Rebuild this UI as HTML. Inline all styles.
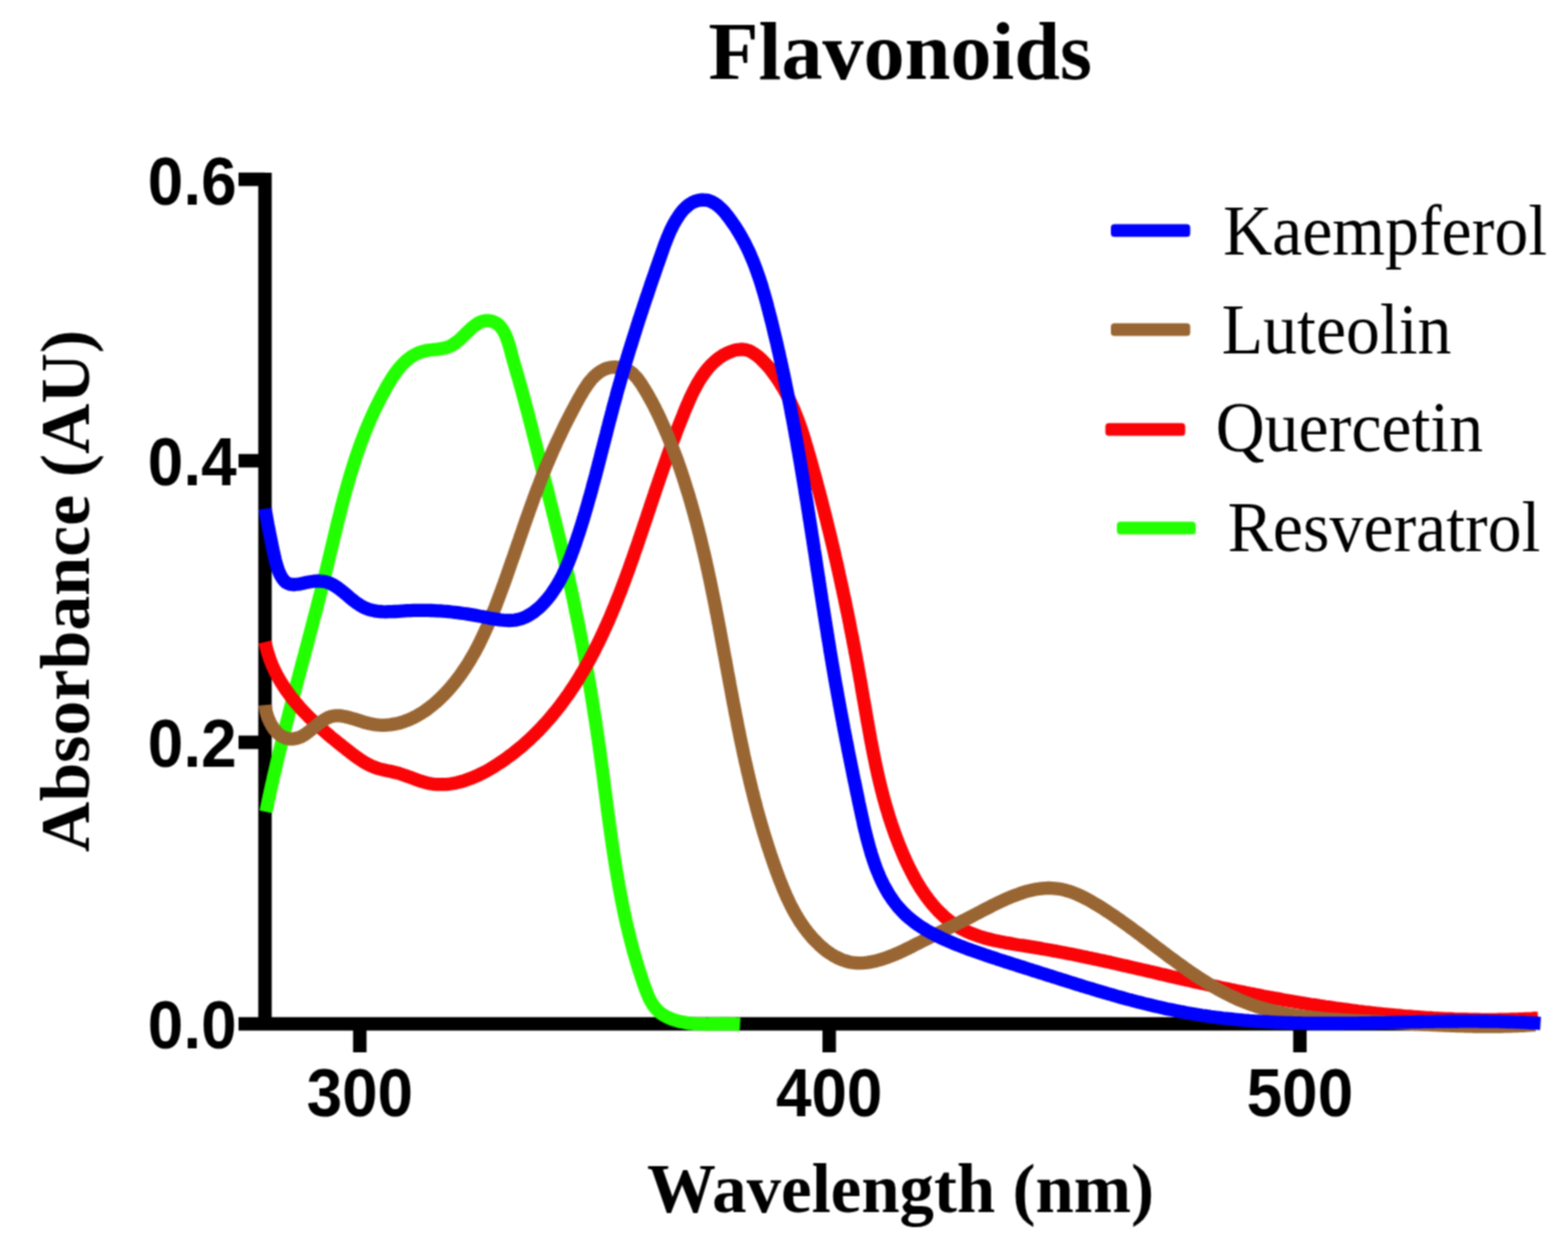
<!DOCTYPE html><html><head><meta charset="utf-8"><title>Flavonoids</title><style>html,body{margin:0;padding:0;background:#fff;}svg{display:block;}.serb{font-family:"Liberation Serif","Times New Roman",serif;font-weight:bold;}.ser{font-family:"Liberation Serif","Times New Roman",serif;}.sanb{font-family:"Liberation Sans",Arial,sans-serif;font-weight:bold;}</style></head><body>
<svg width="1571" height="1250" viewBox="0 0 1571 1250">
<defs><filter id="soft" x="0" y="0" width="1571" height="1250" filterUnits="userSpaceOnUse" color-interpolation-filters="sRGB"><feConvolveMatrix order="3" kernelMatrix="1 2 1 2 4 2 1 2 1" edgeMode="duplicate"/></filter></defs>
<g filter="url(#soft)">
<rect width="1571" height="1250" fill="#fff"/>
<text class="serb" x="0.0" y="0.0" font-size="82.3" text-anchor="middle" transform="translate(901.9 78.6) scale(1 1.000) translate(0.0 0.0)">Flavonoids</text>
<text class="serb" x="0" y="0" font-size="70.0" text-anchor="middle" transform="translate(88.9 591.9) rotate(-90) scale(1 1.000)">Absorbance (AU)</text>
<text class="serb" x="0" y="0" font-size="69.0" text-anchor="middle" transform="translate(902.3 1213.5) scale(1 1.000)">Wavelength (nm)</text>
<g stroke="#000" stroke-width="13.5" fill="none" stroke-linecap="butt">
<path d="M265.5,172.9 V1031.5"/>
<path d="M239.0,1025.5 H1534.0"/>
<path d="M239,179.6 H265.5"/>
<path d="M239,461.5 H265.5"/>
<path d="M239,743.5 H265.5"/>
<path d="M360.5,1025.5 V1054.0"/>
<path d="M830.8,1025.5 V1054.0"/>
<path d="M1302.4,1025.5 V1054.0"/>
</g>
<text class="sanb" font-size="64.0" text-anchor="end" transform="translate(237.0 204.7) scale(1 1.080)">0.6</text>
<text class="sanb" font-size="64.0" text-anchor="end" transform="translate(237.0 486.4) scale(1 1.080)">0.4</text>
<text class="sanb" font-size="64.0" text-anchor="end" transform="translate(237.0 768.1) scale(1 1.080)">0.2</text>
<text class="sanb" font-size="64.0" text-anchor="end" transform="translate(237.0 1049.7) scale(1 1.080)">0.0</text>
<text class="sanb" font-size="64.0" text-anchor="middle" transform="translate(360.5 1117.6) scale(1 1.080)">300</text>
<text class="sanb" font-size="64.0" text-anchor="middle" transform="translate(830.8 1117.6) scale(1 1.080)">400</text>
<text class="sanb" font-size="64.0" text-anchor="middle" transform="translate(1302.4 1117.6) scale(1 1.080)">500</text>
<path d="M266.5,813.1 L267.1,810.2 267.7,807.2 268.3,804.3 268.9,801.3 269.6,798.4 270.2,795.5 270.8,792.5 271.5,789.6 272.1,786.6 272.8,783.7 273.5,780.8 274.1,777.8 274.8,774.9 275.5,772.0 276.2,769.0 276.8,766.1 277.5,763.2 278.2,760.3 278.9,757.3 279.6,754.4 280.3,751.5 281.1,748.6 281.8,745.6 282.5,742.7 283.2,739.8 283.9,736.9 284.7,734.0 285.4,731.1 286.1,728.1 286.9,725.2 287.6,722.3 288.4,719.4 289.1,716.5 289.9,713.6 290.6,710.7 291.4,707.7 292.1,704.8 292.9,701.9 293.6,699.0 294.4,696.1 295.2,693.2 295.9,690.3 296.7,687.4 297.5,684.5 298.2,681.6 299.0,678.7 299.8,675.8 300.5,672.8 301.3,669.9 302.1,667.0 302.8,664.1 303.6,661.2 304.4,658.3 305.2,655.4 305.9,652.5 306.7,649.6 307.5,646.7 308.2,643.8 309.0,640.9 309.8,638.0 310.5,635.1 311.3,632.1 312.1,629.2 312.8,626.3 313.6,623.4 314.3,620.5 315.1,617.6 315.9,614.7 316.6,611.8 317.4,608.9 318.1,606.0 318.9,603.0 319.6,600.1 320.4,597.2 321.1,594.3 321.8,591.4 322.6,588.5 323.3,585.5 324.0,582.6 324.7,579.7 325.5,576.8 326.2,573.9 326.9,570.9 327.6,568.0 328.3,565.1 329.0,562.2 329.7,559.2 330.4,556.3 331.1,553.4 331.8,550.5 332.5,547.5 333.2,544.6 333.9,541.7 334.6,538.7 335.3,535.8 336.0,532.9 336.7,530.0 337.4,527.0 338.1,524.1 338.8,521.2 339.6,518.3 340.3,515.4 341.0,512.5 341.8,509.5 342.5,506.6 343.3,503.7 344.0,500.8 344.8,497.9 345.6,495.0 346.4,492.1 347.2,489.2 348.0,486.3 348.8,483.5 349.6,480.6 350.5,477.7 351.3,474.8 352.2,471.9 353.1,469.1 354.0,466.2 354.9,463.4 355.8,460.5 356.7,457.7 357.7,454.8 358.7,452.0 359.7,449.1 360.7,446.3 361.7,443.5 362.8,440.7 363.8,437.9 364.9,435.1 366.0,432.3 367.1,429.5 368.3,426.7 369.5,423.9 370.7,421.1 371.9,418.4 373.1,415.6 374.4,412.9 375.7,410.1 377.0,407.4 378.3,404.7 379.7,402.0 381.1,399.3 382.5,396.6 383.9,393.9 385.4,391.2 386.9,388.5 388.4,385.8 390.0,383.2 391.6,380.6 393.2,378.0 394.9,375.5 396.7,373.0 398.5,370.6 400.3,368.3 402.2,366.1 404.2,364.0 406.3,362.0 408.5,360.2 410.7,358.4 413.0,356.8 415.4,355.4 417.9,354.1 420.6,353.0 423.3,352.1 426.1,351.4 429.0,350.9 432.0,350.5 435.1,350.1 438.1,349.8 441.2,349.4 444.1,348.9 447.0,348.2 449.8,347.2 452.4,346.0 454.9,344.5 457.3,342.8 459.7,340.9 462.0,338.8 464.3,336.6 466.6,334.3 468.9,332.0 471.3,329.7 473.7,327.6 476.1,325.7 478.6,324.0 481.1,322.7 483.7,321.7 486.4,321.2 489.0,321.1 491.7,321.5 494.2,322.2 496.6,323.3 498.8,324.7 500.8,326.5 502.5,328.7 504.1,331.0 505.6,333.7 506.9,336.5 508.0,339.5 509.1,342.5 510.1,345.7 511.0,348.9 511.9,352.1 512.7,355.3 513.5,358.4 514.4,361.4 515.2,364.3 516.0,367.2 516.8,370.1 517.6,372.9 518.5,375.7 519.3,378.5 520.1,381.3 520.9,384.2 521.7,387.0 522.5,389.8 523.3,392.7 524.0,395.6 524.8,398.4 525.6,401.3 526.4,404.2 527.1,407.1 527.9,409.9 528.7,412.8 529.4,415.7 530.2,418.6 530.9,421.5 531.7,424.4 532.4,427.4 533.2,430.3 533.9,433.2 534.6,436.1 535.4,439.0 536.1,442.0 536.9,444.9 537.6,447.8 538.3,450.7 539.1,453.7 539.8,456.6 540.5,459.5 541.3,462.5 542.0,465.4 542.7,468.3 543.5,471.3 544.2,474.2 544.9,477.1 545.7,480.1 546.4,483.0 547.1,485.9 547.9,488.8 548.6,491.7 549.3,494.7 550.1,497.6 550.8,500.5 551.5,503.4 552.3,506.3 553.0,509.3 553.7,512.2 554.4,515.1 555.2,518.0 555.9,520.9 556.6,523.8 557.3,526.8 558.0,529.7 558.8,532.6 559.5,535.5 560.2,538.4 560.9,541.3 561.6,544.3 562.3,547.2 563.0,550.1 563.7,553.0 564.4,555.9 565.1,558.8 565.8,561.8 566.4,564.7 567.1,567.6 567.8,570.5 568.4,573.5 569.1,576.4 569.8,579.3 570.4,582.2 571.1,585.2 571.7,588.1 572.4,591.0 573.0,594.0 573.6,596.9 574.3,599.8 574.9,602.8 575.5,605.7 576.1,608.7 576.7,611.6 577.3,614.5 577.9,617.5 578.5,620.4 579.1,623.4 579.7,626.3 580.3,629.3 580.9,632.2 581.5,635.2 582.1,638.1 582.6,641.1 583.2,644.0 583.7,647.0 584.3,649.9 584.9,652.9 585.4,655.8 586.0,658.8 586.5,661.7 587.0,664.7 587.6,667.7 588.1,670.6 588.6,673.6 589.1,676.5 589.6,679.5 590.2,682.5 590.7,685.4 591.2,688.4 591.7,691.4 592.2,694.3 592.7,697.3 593.1,700.3 593.6,703.2 594.1,706.2 594.6,709.2 595.0,712.1 595.5,715.1 596.0,718.1 596.4,721.1 596.9,724.0 597.3,727.0 597.8,730.0 598.2,733.0 598.6,735.9 599.1,738.9 599.5,741.9 599.9,744.9 600.4,747.9 600.8,750.8 601.2,753.8 601.6,756.8 602.0,759.8 602.4,762.8 602.8,765.8 603.2,768.7 603.6,771.7 604.0,774.7 604.4,777.7 604.8,780.7 605.2,783.7 605.5,786.7 605.9,789.6 606.3,792.6 606.7,795.6 607.1,798.6 607.5,801.6 607.9,804.6 608.2,807.6 608.6,810.5 609.0,813.5 609.4,816.5 609.8,819.5 610.2,822.5 610.6,825.5 611.0,828.4 611.4,831.4 611.8,834.4 612.3,837.4 612.7,840.4 613.1,843.3 613.5,846.3 614.0,849.3 614.4,852.3 614.9,855.2 615.3,858.2 615.8,861.2 616.2,864.2 616.7,867.1 617.2,870.1 617.7,873.1 618.2,876.0 618.7,879.0 619.2,881.9 619.7,884.9 620.2,887.9 620.8,890.8 621.3,893.8 621.9,896.7 622.4,899.7 623.0,902.6 623.6,905.6 624.2,908.5 624.8,911.5 625.4,914.4 626.0,917.3 626.7,920.3 627.3,923.2 628.0,926.1 628.7,929.1 629.4,932.0 630.1,934.9 630.8,937.8 631.5,940.8 632.3,943.7 633.1,946.6 633.8,949.5 634.6,952.4 635.4,955.3 636.3,958.2 637.1,961.1 638.0,964.0 638.8,966.9 639.7,969.8 640.6,972.7 641.6,975.5 642.5,978.4 643.5,981.3 644.4,984.2 645.4,987.0 646.4,989.9 647.5,992.7 648.6,995.5 649.8,998.3 651.1,1001.0 652.5,1003.6 654.0,1006.1 655.6,1008.4 657.5,1010.6 659.5,1012.7 661.7,1014.6 664.1,1016.3 666.7,1017.8 669.4,1019.2 672.3,1020.4 675.3,1021.5 678.3,1022.4 681.4,1023.2 684.5,1023.8 687.6,1024.4 690.6,1024.8 693.7,1025.1 696.7,1025.4 699.7,1025.6 702.6,1025.7 705.6,1025.7 708.6,1025.8 711.5,1025.7 714.5,1025.7 717.4,1025.6 720.4,1025.6 723.4,1025.5 726.3,1025.5 729.3,1025.5 732.3,1025.6 735.4,1025.6 738.4,1025.8 741.5,1026.0" fill="none" stroke="#22ff00" stroke-width="13.3" stroke-linejoin="round" stroke-linecap="butt"/>
<path d="M265.5,642.9 L266.2,645.9 266.9,648.9 267.7,651.9 268.6,654.8 269.5,657.7 270.5,660.6 271.6,663.4 272.7,666.2 273.9,668.9 275.2,671.7 276.5,674.3 277.9,677.0 279.4,679.6 280.8,682.2 282.4,684.7 284.0,687.2 285.6,689.7 287.3,692.1 289.1,694.5 290.8,696.9 292.7,699.3 294.5,701.6 296.4,703.9 298.4,706.2 300.3,708.4 302.4,710.7 304.4,712.8 306.5,715.0 308.6,717.2 310.7,719.3 312.9,721.4 315.0,723.5 317.2,725.5 319.5,727.6 321.7,729.6 324.0,731.6 326.2,733.5 328.5,735.5 330.8,737.4 333.1,739.4 335.5,741.3 337.8,743.2 340.1,745.0 342.4,746.9 344.8,748.7 347.1,750.6 349.5,752.4 351.8,754.2 354.1,756.0 356.5,757.7 358.8,759.4 361.2,761.0 363.7,762.6 366.1,764.1 368.6,765.5 371.2,766.8 373.9,767.9 376.6,769.0 379.3,769.9 382.2,770.6 385.1,771.3 388.1,771.9 391.1,772.5 394.1,773.2 397.1,773.9 400.0,774.7 403.0,775.7 405.9,776.7 408.8,777.8 411.7,778.8 414.6,779.9 417.5,781.0 420.4,782.0 423.2,782.9 426.1,783.7 429.0,784.4 431.9,785.0 434.8,785.4 437.6,785.6 440.5,785.7 443.4,785.7 446.3,785.6 449.2,785.4 452.1,785.0 454.9,784.5 457.8,783.9 460.6,783.2 463.5,782.5 466.3,781.6 469.1,780.6 471.9,779.6 474.7,778.4 477.5,777.2 480.3,775.9 483.0,774.6 485.7,773.2 488.4,771.7 491.1,770.2 493.7,768.6 496.3,767.0 498.9,765.3 501.5,763.6 504.1,761.9 506.6,760.1 509.0,758.3 511.5,756.5 513.9,754.7 516.3,752.8 518.6,750.9 521.0,749.0 523.3,747.1 525.5,745.1 527.8,743.1 530.0,741.1 532.2,739.0 534.3,737.0 536.5,734.9 538.6,732.8 540.7,730.6 542.7,728.5 544.7,726.3 546.7,724.1 548.7,721.9 550.7,719.6 552.6,717.4 554.5,715.1 556.4,712.8 558.2,710.5 560.1,708.1 561.9,705.8 563.6,703.4 565.4,701.0 567.1,698.6 568.9,696.2 570.6,693.7 572.2,691.3 573.9,688.8 575.5,686.3 577.1,683.8 578.7,681.3 580.3,678.7 581.8,676.2 583.4,673.6 584.9,671.0 586.4,668.4 587.9,665.8 589.3,663.2 590.8,660.6 592.2,657.9 593.6,655.3 595.0,652.6 596.4,649.9 597.7,647.2 599.1,644.5 600.4,641.8 601.7,639.1 603.0,636.4 604.3,633.6 605.5,630.9 606.8,628.1 608.0,625.4 609.3,622.6 610.5,619.8 611.7,617.0 612.9,614.2 614.0,611.4 615.2,608.6 616.4,605.8 617.5,603.0 618.6,600.2 619.7,597.4 620.9,594.5 622.0,591.7 623.0,588.9 624.1,586.0 625.2,583.2 626.2,580.4 627.3,577.5 628.3,574.7 629.4,571.8 630.4,569.0 631.4,566.1 632.4,563.3 633.5,560.4 634.5,557.6 635.4,554.7 636.4,551.8 637.4,549.0 638.4,546.2 639.4,543.3 640.3,540.5 641.3,537.6 642.3,534.8 643.2,532.0 644.2,529.1 645.1,526.3 646.1,523.5 647.0,520.7 648.0,517.8 648.9,515.0 649.8,512.2 650.8,509.4 651.7,506.6 652.7,503.8 653.6,501.0 654.5,498.2 655.5,495.4 656.4,492.6 657.4,489.8 658.3,487.0 659.3,484.2 660.2,481.4 661.2,478.6 662.2,475.8 663.1,473.0 664.1,470.2 665.1,467.4 666.1,464.6 667.1,461.8 668.1,458.9 669.1,456.1 670.1,453.3 671.1,450.5 672.1,447.6 673.2,444.8 674.2,442.0 675.3,439.1 676.4,436.3 677.4,433.4 678.5,430.6 679.6,427.7 680.8,424.8 681.9,421.9 683.0,419.1 684.2,416.2 685.3,413.3 686.5,410.4 687.7,407.4 689.0,404.6 690.2,401.7 691.5,398.8 692.8,396.0 694.1,393.2 695.5,390.4 697.0,387.7 698.4,385.0 700.0,382.3 701.5,379.8 703.2,377.2 704.9,374.8 706.6,372.4 708.4,370.1 710.3,367.9 712.2,365.8 714.3,363.8 716.4,361.8 718.6,360.0 720.8,358.3 723.2,356.7 725.6,355.2 728.2,353.9 730.8,352.7 733.5,351.7 736.2,350.8 739.0,350.3 741.8,350.0 744.5,350.0 747.2,350.4 749.9,351.1 752.4,352.3 754.9,353.7 757.4,355.4 759.8,357.3 762.1,359.3 764.3,361.5 766.5,363.7 768.6,366.0 770.7,368.4 772.7,370.9 774.6,373.4 776.5,376.0 778.3,378.6 780.0,381.2 781.7,383.8 783.3,386.5 784.9,389.1 786.4,391.8 787.9,394.5 789.3,397.2 790.6,399.9 791.9,402.6 793.2,405.3 794.4,408.1 795.6,410.8 796.7,413.6 797.8,416.3 798.9,419.1 799.9,421.9 801.0,424.7 801.9,427.5 802.9,430.3 803.8,433.1 804.7,435.9 805.6,438.8 806.5,441.6 807.3,444.4 808.2,447.3 809.0,450.1 809.8,453.0 810.7,455.9 811.5,458.7 812.3,461.6 813.1,464.4 813.9,467.3 814.7,470.2 815.5,473.1 816.3,475.9 817.1,478.8 817.9,481.7 818.6,484.6 819.4,487.5 820.2,490.4 821.0,493.3 821.7,496.2 822.5,499.1 823.2,502.0 824.0,504.9 824.7,507.8 825.5,510.7 826.2,513.6 826.9,516.5 827.7,519.5 828.4,522.4 829.1,525.3 829.8,528.2 830.6,531.2 831.3,534.1 832.0,537.0 832.7,539.9 833.4,542.9 834.1,545.8 834.8,548.8 835.5,551.7 836.2,554.6 836.8,557.6 837.5,560.5 838.2,563.5 838.9,566.4 839.5,569.4 840.2,572.3 840.8,575.3 841.5,578.2 842.1,581.2 842.8,584.1 843.4,587.1 844.1,590.0 844.7,593.0 845.3,596.0 846.0,598.9 846.6,601.9 847.2,604.8 847.8,607.8 848.4,610.8 849.1,613.7 849.7,616.7 850.3,619.7 850.9,622.6 851.5,625.6 852.0,628.5 852.6,631.5 853.2,634.5 853.8,637.4 854.4,640.4 854.9,643.4 855.5,646.3 856.1,649.3 856.6,652.3 857.2,655.2 857.8,658.2 858.3,661.2 858.9,664.1 859.4,667.1 859.9,670.1 860.5,673.0 861.0,676.0 861.5,679.0 862.1,681.9 862.6,684.9 863.1,687.9 863.6,690.8 864.1,693.8 864.6,696.7 865.1,699.7 865.7,702.7 866.2,705.6 866.7,708.6 867.2,711.5 867.7,714.5 868.2,717.4 868.7,720.4 869.2,723.3 869.8,726.3 870.3,729.2 870.8,732.2 871.4,735.1 871.9,738.1 872.4,741.0 873.0,743.9 873.6,746.9 874.1,749.8 874.7,752.8 875.3,755.7 875.9,758.6 876.5,761.5 877.1,764.5 877.7,767.4 878.3,770.3 879.0,773.2 879.6,776.1 880.3,779.1 881.0,782.0 881.7,784.9 882.4,787.8 883.1,790.7 883.9,793.6 884.6,796.5 885.4,799.4 886.2,802.3 887.0,805.2 887.8,808.1 888.7,810.9 889.6,813.8 890.4,816.7 891.3,819.6 892.3,822.4 893.2,825.3 894.2,828.2 895.2,831.0 896.2,833.9 897.2,836.7 898.3,839.6 899.4,842.4 900.5,845.3 901.6,848.1 902.8,850.9 904.0,853.8 905.2,856.6 906.4,859.4 907.7,862.2 909.0,865.0 910.3,867.8 911.7,870.5 913.1,873.3 914.5,876.0 916.0,878.7 917.4,881.4 919.0,884.0 920.5,886.6 922.1,889.2 923.8,891.7 925.5,894.2 927.2,896.7 928.9,899.1 930.7,901.5 932.6,903.8 934.4,906.1 936.4,908.3 938.3,910.5 940.3,912.6 942.4,914.6 944.5,916.6 946.6,918.6 948.8,920.4 951.1,922.2 953.3,924.0 955.7,925.6 958.1,927.2 960.5,928.7 963.0,930.1 965.5,931.5 968.1,932.7 970.8,933.9 973.5,935.1 976.2,936.1 979.0,937.1 981.8,938.0 984.7,938.9 987.5,939.8 990.4,940.5 993.4,941.3 996.4,942.0 999.3,942.6 1002.4,943.2 1005.4,943.8 1008.4,944.4 1011.5,944.9 1014.6,945.4 1017.6,946.0 1020.7,946.5 1023.8,946.9 1026.9,947.4 1030.0,947.9 1033.0,948.4 1036.1,948.9 1039.2,949.4 1042.2,949.9 1045.3,950.5 1048.3,951.0 1051.4,951.5 1054.4,952.1 1057.4,952.6 1060.4,953.2 1063.4,953.8 1066.4,954.3 1069.4,954.9 1072.4,955.5 1075.4,956.1 1078.4,956.7 1081.3,957.3 1084.3,957.9 1087.3,958.5 1090.2,959.2 1093.2,959.8 1096.1,960.4 1099.1,961.1 1102.0,961.7 1105.0,962.3 1107.9,963.0 1110.8,963.6 1113.8,964.3 1116.7,964.9 1119.6,965.6 1122.5,966.3 1125.4,966.9 1128.4,967.6 1131.3,968.3 1134.2,968.9 1137.1,969.6 1140.0,970.3 1142.9,970.9 1145.8,971.6 1148.7,972.3 1151.6,973.0 1154.5,973.6 1157.4,974.3 1160.3,975.0 1163.2,975.7 1166.1,976.3 1169.0,977.0 1171.9,977.7 1174.8,978.4 1177.7,979.0 1180.6,979.7 1183.5,980.4 1186.4,981.0 1189.4,981.7 1192.3,982.3 1195.2,983.0 1198.1,983.7 1201.0,984.3 1203.9,984.9 1206.8,985.6 1209.8,986.2 1212.7,986.9 1215.6,987.5 1218.5,988.1 1221.5,988.8 1224.4,989.4 1227.3,990.0 1230.3,990.6 1233.2,991.2 1236.1,991.8 1239.1,992.4 1242.0,993.0 1245.0,993.6 1247.9,994.2 1250.8,994.8 1253.8,995.4 1256.7,995.9 1259.7,996.5 1262.6,997.1 1265.6,997.7 1268.5,998.2 1271.5,998.8 1274.5,999.3 1277.4,999.9 1280.4,1000.4 1283.3,1000.9 1286.3,1001.5 1289.3,1002.0 1292.2,1002.5 1295.2,1003.0 1298.2,1003.5 1301.1,1004.0 1304.1,1004.5 1307.1,1005.0 1310.1,1005.5 1313.0,1006.0 1316.0,1006.4 1319.0,1006.9 1322.0,1007.4 1325.0,1007.8 1327.9,1008.3 1330.9,1008.7 1333.9,1009.1 1336.9,1009.6 1339.9,1010.0 1342.9,1010.4 1345.8,1010.8 1348.8,1011.2 1351.8,1011.6 1354.8,1012.0 1357.8,1012.4 1360.8,1012.8 1363.8,1013.1 1366.8,1013.5 1369.8,1013.8 1372.8,1014.2 1375.7,1014.5 1378.7,1014.9 1381.7,1015.2 1384.7,1015.5 1387.7,1015.8 1390.7,1016.1 1393.7,1016.4 1396.7,1016.7 1399.7,1017.0 1402.7,1017.2 1405.7,1017.5 1408.7,1017.8 1411.7,1018.0 1414.7,1018.2 1417.7,1018.5 1420.7,1018.7 1423.7,1018.9 1426.8,1019.1 1429.8,1019.3 1432.8,1019.5 1435.8,1019.7 1438.8,1019.8 1441.8,1020.0 1444.8,1020.1 1447.8,1020.3 1450.8,1020.4 1453.8,1020.5 1456.8,1020.7 1459.8,1020.8 1462.8,1020.9 1465.8,1020.9 1468.8,1021.0 1471.8,1021.1 1474.8,1021.1 1477.9,1021.2 1480.9,1021.2 1483.9,1021.3 1486.9,1021.3 1489.9,1021.3 1492.9,1021.3 1495.9,1021.3 1498.9,1021.3 1501.9,1021.2 1504.9,1021.2 1507.9,1021.1 1510.9,1021.1 1513.9,1021.0 1516.9,1020.9 1519.9,1020.8 1522.9,1020.7 1525.9,1020.6 1528.9,1020.4 1532.0,1020.3 1535.0,1020.2 1538.0,1020.0 1541.0,1019.8" fill="none" stroke="#fa0408" stroke-width="13.3" stroke-linejoin="round" stroke-linecap="butt"/>
<path d="M265.7,706.1 L266.0,709.1 266.5,712.1 267.3,715.3 268.3,718.4 269.6,721.5 271.0,724.4 272.6,727.3 274.4,730.0 276.4,732.4 278.5,734.6 280.7,736.4 283.1,737.9 285.6,739.0 288.1,739.7 290.7,740.1 293.3,740.1 296.0,739.7 298.6,739.1 301.2,738.1 303.7,736.7 306.2,735.2 308.7,733.4 311.2,731.4 313.6,729.4 316.1,727.4 318.6,725.4 321.0,723.4 323.6,721.7 326.1,720.1 328.7,718.8 331.4,717.8 334.2,717.1 337.0,716.9 339.9,716.9 342.8,717.2 345.8,717.7 348.8,718.4 351.8,719.3 354.9,720.2 358.0,721.2 361.1,722.2 364.2,723.2 367.3,724.0 370.3,724.8 373.4,725.4 376.4,725.8 379.4,726.1 382.4,726.3 385.3,726.3 388.3,726.1 391.1,725.9 394.0,725.4 396.8,724.9 399.7,724.3 402.4,723.5 405.2,722.6 407.9,721.6 410.6,720.5 413.2,719.3 415.8,718.0 418.4,716.6 421.0,715.1 423.5,713.5 426.0,711.9 428.4,710.1 430.8,708.3 433.1,706.5 435.5,704.5 437.7,702.6 440.0,700.5 442.2,698.4 444.3,696.3 446.4,694.1 448.5,691.9 450.5,689.6 452.5,687.3 454.4,685.0 456.3,682.7 458.1,680.3 459.9,677.9 461.7,675.5 463.4,673.0 465.1,670.5 466.8,668.0 468.4,665.5 470.0,663.0 471.5,660.4 473.0,657.8 474.5,655.2 476.0,652.6 477.4,649.9 478.8,647.3 480.2,644.6 481.5,641.9 482.8,639.2 484.1,636.4 485.4,633.7 486.6,630.9 487.9,628.2 489.1,625.4 490.3,622.6 491.4,619.8 492.6,617.0 493.7,614.2 494.9,611.4 496.0,608.6 497.1,605.7 498.1,602.9 499.2,600.1 500.3,597.2 501.3,594.4 502.4,591.6 503.4,588.7 504.5,585.9 505.5,583.0 506.5,580.2 507.5,577.3 508.5,574.5 509.5,571.6 510.5,568.8 511.5,565.9 512.5,563.1 513.5,560.2 514.5,557.4 515.5,554.6 516.4,551.7 517.4,548.9 518.4,546.0 519.4,543.2 520.4,540.3 521.3,537.5 522.3,534.7 523.3,531.8 524.3,529.0 525.2,526.2 526.2,523.4 527.2,520.5 528.2,517.7 529.2,514.9 530.2,512.1 531.2,509.3 532.2,506.5 533.2,503.7 534.2,500.9 535.2,498.1 536.3,495.3 537.3,492.6 538.4,489.8 539.4,487.0 540.5,484.3 541.5,481.5 542.6,478.8 543.7,476.0 544.8,473.3 545.9,470.5 547.0,467.8 548.2,465.1 549.3,462.4 550.5,459.6 551.7,456.9 552.8,454.2 554.0,451.4 555.3,448.7 556.5,446.0 557.7,443.3 559.0,440.5 560.3,437.8 561.6,435.1 562.9,432.3 564.2,429.6 565.5,426.8 566.9,424.1 568.3,421.3 569.7,418.6 571.1,415.8 572.6,413.0 574.0,410.2 575.5,407.5 577.0,404.7 578.5,401.9 580.1,399.0 581.7,396.2 583.3,393.5 584.9,390.7 586.7,388.1 588.4,385.5 590.2,383.0 592.1,380.6 594.1,378.4 596.1,376.3 598.3,374.5 600.5,372.8 602.8,371.3 605.2,370.0 607.8,369.0 610.4,368.3 613.2,367.8 616.0,367.7 618.8,367.8 621.6,368.1 624.3,368.8 627.0,369.8 629.5,371.1 631.9,372.6 634.2,374.5 636.3,376.6 638.3,378.8 640.2,381.3 642.0,383.8 643.7,386.5 645.4,389.2 647.0,391.9 648.6,394.5 650.1,397.2 651.6,399.9 653.1,402.6 654.5,405.3 655.9,408.0 657.2,410.7 658.6,413.4 659.9,416.1 661.2,418.9 662.4,421.6 663.7,424.3 664.9,427.1 666.1,429.8 667.3,432.6 668.5,435.3 669.6,438.1 670.8,440.9 671.9,443.7 673.0,446.5 674.1,449.3 675.2,452.1 676.3,454.9 677.3,457.7 678.4,460.5 679.4,463.4 680.4,466.2 681.4,469.0 682.4,471.9 683.3,474.7 684.3,477.6 685.2,480.5 686.1,483.3 687.0,486.2 687.9,489.1 688.8,492.0 689.7,494.8 690.6,497.7 691.4,500.6 692.3,503.5 693.1,506.4 693.9,509.3 694.7,512.2 695.5,515.1 696.3,518.0 697.1,520.9 697.9,523.8 698.6,526.7 699.4,529.6 700.1,532.6 700.9,535.5 701.6,538.4 702.3,541.3 703.0,544.2 703.7,547.2 704.4,550.1 705.1,553.0 705.8,555.9 706.5,558.9 707.1,561.8 707.8,564.7 708.4,567.7 709.1,570.6 709.7,573.5 710.3,576.5 711.0,579.4 711.6,582.3 712.2,585.3 712.8,588.2 713.4,591.1 714.0,594.1 714.6,597.0 715.2,600.0 715.8,602.9 716.4,605.9 717.0,608.8 717.5,611.8 718.1,614.7 718.7,617.7 719.2,620.6 719.8,623.6 720.4,626.5 720.9,629.4 721.5,632.4 722.0,635.4 722.6,638.3 723.1,641.3 723.7,644.2 724.2,647.2 724.8,650.1 725.3,653.1 725.9,656.0 726.4,659.0 727.0,661.9 727.5,664.9 728.0,667.8 728.6,670.8 729.1,673.7 729.7,676.7 730.2,679.6 730.8,682.6 731.3,685.6 731.9,688.5 732.4,691.5 733.0,694.4 733.5,697.4 734.1,700.3 734.6,703.3 735.2,706.2 735.8,709.2 736.3,712.1 736.9,715.1 737.5,718.0 738.1,721.0 738.6,723.9 739.2,726.9 739.8,729.8 740.4,732.7 741.0,735.7 741.6,738.6 742.2,741.6 742.8,744.5 743.5,747.5 744.1,750.4 744.7,753.3 745.3,756.3 746.0,759.2 746.6,762.2 747.3,765.1 748.0,768.0 748.6,771.0 749.3,773.9 750.0,776.8 750.7,779.7 751.4,782.7 752.1,785.6 752.8,788.5 753.5,791.4 754.3,794.4 755.0,797.3 755.7,800.2 756.5,803.1 757.3,806.0 758.0,808.9 758.8,811.9 759.6,814.8 760.4,817.7 761.3,820.6 762.1,823.5 762.9,826.4 763.8,829.3 764.6,832.2 765.5,835.1 766.4,838.0 767.3,840.9 768.2,843.8 769.1,846.7 770.0,849.5 771.0,852.4 771.9,855.3 772.9,858.2 773.9,861.1 774.9,863.9 775.9,866.8 776.9,869.7 777.9,872.5 779.0,875.4 780.1,878.3 781.1,881.1 782.3,884.0 783.4,886.8 784.5,889.6 785.7,892.4 786.9,895.2 788.1,898.0 789.4,900.7 790.7,903.5 792.0,906.2 793.4,908.9 794.8,911.5 796.2,914.1 797.7,916.7 799.3,919.3 800.8,921.8 802.4,924.3 804.1,926.8 805.8,929.2 807.6,931.6 809.4,934.0 811.3,936.2 813.2,938.5 815.2,940.7 817.3,942.8 819.4,944.9 821.5,947.0 823.8,949.0 826.1,950.9 828.4,952.7 830.8,954.4 833.3,956.0 835.7,957.5 838.3,958.9 840.9,960.1 843.5,961.3 846.2,962.2 848.9,963.0 851.6,963.7 854.4,964.2 857.3,964.5 860.1,964.6 863.0,964.6 865.9,964.4 868.8,964.1 871.8,963.7 874.7,963.1 877.7,962.4 880.7,961.6 883.7,960.8 886.6,959.8 889.6,958.7 892.6,957.6 895.6,956.4 898.6,955.1 901.6,953.8 904.5,952.4 907.4,951.0 910.4,949.6 913.2,948.2 916.1,946.7 918.9,945.3 921.8,943.8 924.5,942.4 927.3,941.0 929.9,939.7 932.6,938.3 935.2,937.0 937.8,935.7 940.4,934.4 942.9,933.2 945.5,931.9 948.0,930.7 950.5,929.4 953.0,928.2 955.6,926.9 958.1,925.7 960.6,924.4 963.1,923.1 965.7,921.9 968.3,920.5 970.9,919.2 973.5,917.8 976.2,916.4 978.8,915.0 981.6,913.6 984.3,912.2 987.1,910.7 989.9,909.3 992.7,907.8 995.5,906.4 998.4,905.0 1001.2,903.6 1004.1,902.3 1007.0,900.9 1009.9,899.7 1012.8,898.4 1015.7,897.3 1018.7,896.2 1021.6,895.1 1024.5,894.1 1027.5,893.2 1030.4,892.4 1033.3,891.7 1036.3,891.1 1039.2,890.5 1042.1,890.1 1045.0,889.8 1047.9,889.6 1050.8,889.5 1053.7,889.6 1056.6,889.8 1059.4,890.1 1062.2,890.5 1065.1,891.1 1067.9,891.8 1070.6,892.6 1073.4,893.6 1076.2,894.6 1078.9,895.7 1081.6,896.9 1084.3,898.1 1087.0,899.5 1089.7,900.9 1092.4,902.3 1095.0,903.9 1097.6,905.4 1100.3,907.0 1102.9,908.6 1105.5,910.3 1108.0,912.0 1110.6,913.6 1113.2,915.4 1115.7,917.1 1118.2,918.8 1120.7,920.6 1123.2,922.3 1125.7,924.1 1128.2,925.9 1130.7,927.7 1133.2,929.5 1135.6,931.3 1138.1,933.1 1140.5,934.9 1143.0,936.7 1145.4,938.6 1147.8,940.4 1150.3,942.2 1152.7,944.1 1155.1,945.9 1157.5,947.7 1159.9,949.6 1162.4,951.4 1164.8,953.2 1167.2,955.0 1169.6,956.9 1172.0,958.7 1174.4,960.4 1176.9,962.2 1179.3,964.0 1181.7,965.8 1184.1,967.5 1186.6,969.2 1189.0,971.0 1191.4,972.7 1193.9,974.4 1196.4,976.0 1198.8,977.7 1201.3,979.3 1203.8,980.9 1206.3,982.5 1208.8,984.0 1211.3,985.6 1213.8,987.1 1216.3,988.6 1218.9,990.0 1221.4,991.5 1224.0,992.9 1226.6,994.2 1229.2,995.6 1231.8,996.9 1234.4,998.2 1237.1,999.4 1239.7,1000.6 1242.4,1001.8 1245.1,1002.9 1247.8,1004.0 1250.6,1005.0 1253.3,1006.1 1256.1,1007.0 1258.9,1008.0 1261.7,1008.8 1264.5,1009.7 1267.4,1010.5 1270.3,1011.3 1273.2,1012.0 1276.1,1012.7 1279.0,1013.4 1281.9,1014.0 1284.9,1014.6 1287.8,1015.2 1290.8,1015.7 1293.8,1016.2 1296.8,1016.7 1299.8,1017.2 1302.8,1017.6 1305.8,1018.0 1308.8,1018.4 1311.9,1018.8 1314.9,1019.1 1318.0,1019.4 1321.0,1019.7 1324.1,1020.0 1327.2,1020.3 1330.2,1020.5 1333.3,1020.8 1336.4,1021.0 1339.5,1021.2 1342.6,1021.4 1345.6,1021.6 1348.7,1021.8 1351.8,1022.0 1354.9,1022.1 1357.9,1022.3 1361.0,1022.5 1364.1,1022.6 1367.1,1022.8 1370.2,1022.9 1373.3,1023.1 1376.3,1023.2 1379.3,1023.4 1382.4,1023.5 1385.4,1023.7 1388.4,1023.9 1391.4,1024.0 1394.4,1024.2 1397.4,1024.3 1400.4,1024.5 1403.4,1024.7 1406.3,1024.9 1409.3,1025.0 1412.3,1025.2 1415.2,1025.4 1418.2,1025.5 1421.1,1025.7 1424.1,1025.9 1427.0,1026.0 1430.0,1026.2 1432.9,1026.3 1435.9,1026.5 1438.8,1026.6 1441.8,1026.8 1444.7,1026.9 1447.7,1027.1 1450.6,1027.2 1453.6,1027.3 1456.5,1027.4 1459.5,1027.5 1462.4,1027.6 1465.4,1027.7 1468.3,1027.8 1471.3,1027.9 1474.3,1027.9 1477.2,1028.0 1480.2,1028.0 1483.2,1028.1 1486.2,1028.1 1489.2,1028.1 1492.2,1028.1 1495.2,1028.1 1498.2,1028.1 1501.2,1028.1 1504.3,1028.0 1507.3,1027.9 1510.4,1027.9 1513.4,1027.8 1516.5,1027.7 1519.6,1027.6 1522.7,1027.4 1525.8,1027.3 1528.9,1027.1 1532.0,1026.9 1535.2,1026.7 1538.3,1026.5" fill="none" stroke="#996633" stroke-width="13.3" stroke-linejoin="round" stroke-linecap="butt"/>
<path d="M265.6,509.5 L266.0,512.1 266.5,514.8 267.0,517.5 267.5,520.3 268.0,523.1 268.5,526.0 269.1,528.9 269.7,531.8 270.3,534.9 270.9,537.9 271.5,541.0 272.2,544.2 272.8,547.4 273.5,550.6 274.2,553.9 275.0,557.2 275.7,560.5 276.6,563.7 277.5,566.9 278.4,569.9 279.5,572.8 280.7,575.5 282.0,577.9 283.4,580.0 285.0,581.9 286.7,583.4 288.7,584.5 290.8,585.2 293.1,585.5 295.6,585.5 298.2,585.2 300.9,584.8 303.6,584.2 306.5,583.6 309.4,583.0 312.3,582.5 315.1,582.2 318.0,582.0 320.8,582.1 323.6,582.3 326.3,582.8 329.0,583.6 331.6,584.7 334.1,586.0 336.6,587.5 339.0,589.1 341.4,591.0 343.8,592.9 346.2,594.9 348.6,596.9 350.9,598.9 353.3,600.9 355.8,602.8 358.3,604.6 360.8,606.3 363.4,607.8 366.0,609.1 368.7,610.1 371.5,611.0 374.4,611.6 377.3,612.1 380.3,612.5 383.3,612.7 386.3,612.8 389.4,612.7 392.5,612.7 395.6,612.5 398.7,612.3 401.8,612.1 404.9,611.9 408.0,611.7 411.1,611.6 414.1,611.4 417.2,611.4 420.2,611.3 423.2,611.3 426.2,611.3 429.2,611.4 432.1,611.5 435.1,611.6 438.0,611.8 441.0,611.9 443.9,612.2 446.9,612.4 449.8,612.7 452.8,613.0 455.7,613.3 458.7,613.7 461.6,614.1 464.6,614.5 467.6,614.9 470.5,615.4 473.5,615.9 476.5,616.4 479.6,617.0 482.6,617.5 485.7,618.1 488.7,618.8 491.8,619.4 494.9,619.9 498.0,620.4 501.0,620.9 504.1,621.2 507.1,621.4 510.1,621.5 513.0,621.4 515.9,621.1 518.7,620.6 521.4,619.9 524.1,618.9 526.8,617.8 529.3,616.5 531.8,615.0 534.3,613.4 536.6,611.6 538.9,609.7 541.2,607.7 543.3,605.6 545.4,603.4 547.4,601.1 549.4,598.7 551.3,596.3 553.1,593.8 554.8,591.3 556.5,588.8 558.1,586.2 559.6,583.6 561.1,581.0 562.5,578.4 563.9,575.7 565.2,573.0 566.4,570.3 567.7,567.5 568.9,564.8 570.0,562.0 571.1,559.2 572.2,556.4 573.2,553.6 574.3,550.8 575.3,547.9 576.3,545.1 577.2,542.3 578.2,539.4 579.1,536.5 580.1,533.7 581.0,530.8 581.9,528.0 582.8,525.1 583.7,522.2 584.6,519.3 585.4,516.5 586.3,513.6 587.1,510.7 588.0,507.8 588.8,504.9 589.6,502.0 590.4,499.1 591.3,496.2 592.1,493.3 592.9,490.4 593.6,487.5 594.4,484.6 595.2,481.7 596.0,478.8 596.8,475.9 597.5,473.0 598.3,470.1 599.0,467.2 599.8,464.3 600.5,461.4 601.3,458.5 602.0,455.5 602.8,452.6 603.5,449.7 604.3,446.8 605.0,443.9 605.8,441.0 606.5,438.1 607.3,435.1 608.0,432.2 608.7,429.3 609.5,426.4 610.2,423.5 611.0,420.6 611.8,417.7 612.5,414.8 613.3,411.9 614.0,409.0 614.8,406.1 615.6,403.2 616.4,400.3 617.2,397.4 617.9,394.5 618.7,391.6 619.5,388.7 620.4,385.8 621.2,382.9 622.0,380.0 622.8,377.1 623.6,374.3 624.5,371.4 625.3,368.5 626.2,365.6 627.0,362.8 627.9,359.9 628.8,357.0 629.6,354.2 630.5,351.3 631.4,348.4 632.3,345.6 633.2,342.7 634.1,339.8 635.0,337.0 635.9,334.1 636.8,331.3 637.7,328.4 638.6,325.5 639.5,322.7 640.4,319.8 641.4,317.0 642.3,314.1 643.3,311.3 644.2,308.4 645.1,305.6 646.1,302.7 647.0,299.9 648.0,297.0 649.0,294.2 649.9,291.3 650.9,288.5 651.8,285.6 652.8,282.8 653.8,279.9 654.8,277.1 655.8,274.3 656.7,271.4 657.7,268.6 658.7,265.7 659.7,262.9 660.7,260.0 661.7,257.2 662.7,254.3 663.7,251.5 664.7,248.6 665.7,245.8 666.8,242.9 667.9,240.1 669.0,237.3 670.2,234.5 671.4,231.7 672.7,229.0 674.0,226.3 675.5,223.6 677.0,220.9 678.7,218.2 680.4,215.6 682.3,213.1 684.2,210.7 686.3,208.5 688.5,206.5 690.8,204.6 693.3,203.1 695.8,201.9 698.5,201.0 701.1,200.4 703.8,200.2 706.5,200.3 709.2,200.7 711.8,201.5 714.2,202.7 716.6,204.1 719.0,205.8 721.2,207.7 723.4,209.8 725.5,212.1 727.5,214.5 729.5,217.0 731.4,219.5 733.2,222.1 735.0,224.6 736.8,227.2 738.4,229.9 740.1,232.5 741.6,235.1 743.2,237.8 744.6,240.5 746.1,243.1 747.4,245.8 748.8,248.6 750.1,251.3 751.3,254.0 752.5,256.8 753.7,259.6 754.8,262.3 755.9,265.1 757.0,267.9 758.0,270.7 759.0,273.6 760.0,276.4 761.0,279.2 761.9,282.1 762.8,284.9 763.7,287.8 764.5,290.6 765.4,293.5 766.2,296.4 767.0,299.3 767.8,302.1 768.6,305.0 769.3,307.9 770.1,310.8 770.8,313.7 771.6,316.6 772.3,319.5 773.1,322.4 773.8,325.3 774.5,328.2 775.2,331.2 775.9,334.1 776.6,337.0 777.3,339.9 778.0,342.8 778.7,345.7 779.3,348.7 780.0,351.6 780.7,354.5 781.3,357.4 782.0,360.4 782.6,363.3 783.3,366.2 783.9,369.2 784.5,372.1 785.2,375.0 785.8,378.0 786.4,380.9 787.0,383.9 787.6,386.8 788.2,389.8 788.8,392.7 789.4,395.7 790.0,398.6 790.6,401.6 791.1,404.5 791.7,407.5 792.3,410.4 792.8,413.4 793.4,416.3 794.0,419.3 794.5,422.2 795.1,425.2 795.6,428.2 796.2,431.1 796.7,434.1 797.2,437.0 797.8,440.0 798.3,443.0 798.8,445.9 799.3,448.9 799.9,451.9 800.4,454.8 800.9,457.8 801.4,460.8 801.9,463.7 802.4,466.7 802.9,469.7 803.4,472.7 803.9,475.6 804.4,478.6 804.9,481.6 805.4,484.6 805.9,487.5 806.4,490.5 806.8,493.5 807.3,496.5 807.8,499.4 808.3,502.4 808.8,505.4 809.2,508.4 809.7,511.3 810.2,514.3 810.6,517.3 811.1,520.3 811.6,523.2 812.0,526.2 812.5,529.2 813.0,532.2 813.4,535.1 813.9,538.1 814.4,541.1 814.8,544.1 815.3,547.0 815.7,550.0 816.2,553.0 816.7,556.0 817.1,558.9 817.6,561.9 818.0,564.9 818.5,567.9 818.9,570.8 819.4,573.8 819.9,576.8 820.3,579.8 820.8,582.7 821.2,585.7 821.7,588.7 822.1,591.6 822.6,594.6 823.1,597.6 823.5,600.5 824.0,603.5 824.4,606.5 824.9,609.4 825.4,612.4 825.8,615.4 826.3,618.3 826.8,621.3 827.2,624.2 827.7,627.2 828.2,630.2 828.7,633.1 829.1,636.1 829.6,639.0 830.1,642.0 830.6,644.9 831.1,647.9 831.5,650.8 832.0,653.8 832.5,656.7 833.0,659.7 833.5,662.6 834.0,665.6 834.5,668.5 835.0,671.4 835.5,674.4 836.0,677.3 836.5,680.3 837.0,683.2 837.5,686.1 838.1,689.1 838.6,692.0 839.1,694.9 839.6,697.8 840.2,700.8 840.7,703.7 841.2,706.6 841.8,709.5 842.3,712.5 842.9,715.4 843.4,718.3 844.0,721.2 844.5,724.2 845.1,727.1 845.6,730.0 846.2,733.0 846.8,735.9 847.3,738.8 847.9,741.8 848.5,744.7 849.1,747.6 849.6,750.6 850.2,753.5 850.8,756.5 851.4,759.4 852.0,762.4 852.6,765.3 853.2,768.3 853.8,771.2 854.4,774.2 855.0,777.2 855.6,780.2 856.2,783.1 856.9,786.1 857.5,789.1 858.1,792.1 858.7,795.1 859.4,798.1 860.0,801.1 860.6,804.1 861.3,807.2 861.9,810.2 862.6,813.2 863.2,816.3 863.9,819.3 864.6,822.3 865.2,825.4 865.9,828.4 866.6,831.4 867.4,834.4 868.1,837.5 868.9,840.5 869.7,843.5 870.5,846.4 871.3,849.4 872.2,852.3 873.0,855.3 874.0,858.2 874.9,861.1 875.9,863.9 876.9,866.8 877.9,869.6 879.0,872.4 880.2,875.1 881.3,877.9 882.5,880.6 883.8,883.2 885.1,885.9 886.5,888.4 887.9,891.0 889.3,893.5 890.8,896.0 892.4,898.4 894.0,900.8 895.7,903.1 897.4,905.4 899.2,907.6 901.1,909.8 903.0,911.9 905.0,914.0 907.0,916.0 909.2,918.0 911.4,919.9 913.6,921.7 915.9,923.5 918.3,925.2 920.8,926.9 923.2,928.6 925.8,930.2 928.3,931.7 931.0,933.2 933.6,934.7 936.3,936.1 939.0,937.5 941.8,938.9 944.6,940.2 947.4,941.5 950.2,942.7 953.1,943.9 955.9,945.1 958.8,946.3 961.7,947.4 964.6,948.5 967.5,949.6 970.4,950.7 973.3,951.8 976.2,952.8 979.1,953.8 982.0,954.8 984.8,955.8 987.7,956.8 990.6,957.7 993.4,958.7 996.3,959.6 999.1,960.6 1001.9,961.5 1004.8,962.4 1007.6,963.3 1010.4,964.2 1013.2,965.1 1016.1,966.0 1018.9,966.9 1021.7,967.8 1024.5,968.7 1027.3,969.6 1030.2,970.5 1033.0,971.4 1035.8,972.3 1038.7,973.2 1041.5,974.1 1044.3,975.0 1047.2,975.9 1050.0,976.8 1052.9,977.7 1055.7,978.6 1058.6,979.5 1061.4,980.4 1064.3,981.3 1067.1,982.2 1070.0,983.1 1072.9,984.0 1075.7,984.9 1078.6,985.8 1081.5,986.7 1084.3,987.6 1087.2,988.5 1090.1,989.4 1093.0,990.2 1095.9,991.1 1098.8,992.0 1101.7,992.8 1104.5,993.7 1107.4,994.5 1110.3,995.4 1113.2,996.2 1116.1,997.0 1119.0,997.9 1122.0,998.7 1124.9,999.5 1127.8,1000.3 1130.7,1001.1 1133.6,1001.8 1136.5,1002.6 1139.4,1003.4 1142.4,1004.1 1145.3,1004.9 1148.2,1005.6 1151.1,1006.3 1154.1,1007.0 1157.0,1007.7 1159.9,1008.4 1162.9,1009.1 1165.8,1009.7 1168.8,1010.4 1171.7,1011.0 1174.6,1011.6 1177.6,1012.2 1180.5,1012.8 1183.5,1013.4 1186.4,1013.9 1189.4,1014.5 1192.4,1015.0 1195.3,1015.5 1198.3,1016.0 1201.2,1016.5 1204.2,1017.0 1207.2,1017.4 1210.1,1017.8 1213.1,1018.3 1216.1,1018.7 1219.0,1019.0 1222.0,1019.4 1225.0,1019.8 1228.0,1020.1 1230.9,1020.4 1233.9,1020.7 1236.9,1021.0 1239.9,1021.3 1242.8,1021.6 1245.8,1021.9 1248.8,1022.1 1251.8,1022.4 1254.8,1022.6 1257.8,1022.8 1260.8,1023.0 1263.8,1023.2 1266.8,1023.4 1269.7,1023.5 1272.7,1023.7 1275.7,1023.8 1278.7,1024.0 1281.7,1024.1 1284.7,1024.2 1287.7,1024.3 1290.7,1024.4 1293.7,1024.5 1296.7,1024.6 1299.7,1024.7 1302.7,1024.7 1305.7,1024.8 1308.7,1024.9 1311.8,1024.9 1314.8,1024.9 1317.8,1025.0 1320.8,1025.0 1323.8,1025.0 1326.8,1025.0 1329.8,1025.0 1332.8,1025.0 1335.8,1025.0 1338.8,1025.0 1341.9,1025.0 1344.9,1025.0 1347.9,1024.9 1350.9,1024.9 1353.9,1024.9 1356.9,1024.8 1359.9,1024.8 1363.0,1024.7 1366.0,1024.7 1369.0,1024.6 1372.0,1024.6 1375.0,1024.5 1378.0,1024.5 1381.1,1024.4 1384.1,1024.3 1387.1,1024.3 1390.1,1024.2 1393.1,1024.1 1396.1,1024.1 1399.2,1024.0 1402.2,1023.9 1405.2,1023.9 1408.2,1023.8 1411.2,1023.7 1414.2,1023.7 1417.3,1023.6 1420.3,1023.5 1423.3,1023.5 1426.3,1023.4 1429.3,1023.4 1432.3,1023.3 1435.3,1023.3 1438.4,1023.2 1441.4,1023.2 1444.4,1023.1 1447.4,1023.1 1450.4,1023.0 1453.4,1023.0 1456.4,1023.0 1459.5,1023.0 1462.5,1022.9 1465.5,1022.9 1468.5,1022.9 1471.5,1022.9 1474.5,1022.9 1477.5,1022.9 1480.5,1022.9 1483.5,1023.0 1486.5,1023.0 1489.5,1023.0 1492.5,1023.1 1495.5,1023.1 1498.5,1023.2 1501.5,1023.2 1504.5,1023.3 1507.5,1023.4 1510.5,1023.5 1513.5,1023.6 1516.5,1023.7 1519.5,1023.8 1522.5,1023.9 1525.5,1024.0 1528.5,1024.2 1531.5,1024.3 1534.5,1024.5 1537.5,1024.7 1540.5,1024.9 1543.5,1025.1" fill="none" stroke="#0000ff" stroke-width="13.3" stroke-linejoin="round" stroke-linecap="butt"/>
<rect x="1113.0" y="224.5" width="79.5" height="12.8" rx="3.5" fill="#0000ff"/>
<text class="ser" font-size="68.0" transform="translate(1225.4 254.5) scale(1 1.060)">Kaempferol</text>
<rect x="1113.0" y="323.8" width="79.5" height="12.8" rx="3.5" fill="#996633"/>
<text class="ser" font-size="68.0" transform="translate(1224.0 354.3) scale(1 1.060)">Luteolin</text>
<rect x="1107.5" y="423.8" width="80.0" height="12.8" rx="3.5" fill="#fa0408"/>
<text class="ser" font-size="68.0" transform="translate(1218.0 452.0) scale(1 1.060)">Quercetin</text>
<rect x="1119.0" y="522.4" width="79.0" height="12.8" rx="3.5" fill="#22ff00"/>
<text class="ser" font-size="68.0" transform="translate(1230.0 551.5) scale(1 1.060)">Resveratrol</text>
</g></svg></body></html>
